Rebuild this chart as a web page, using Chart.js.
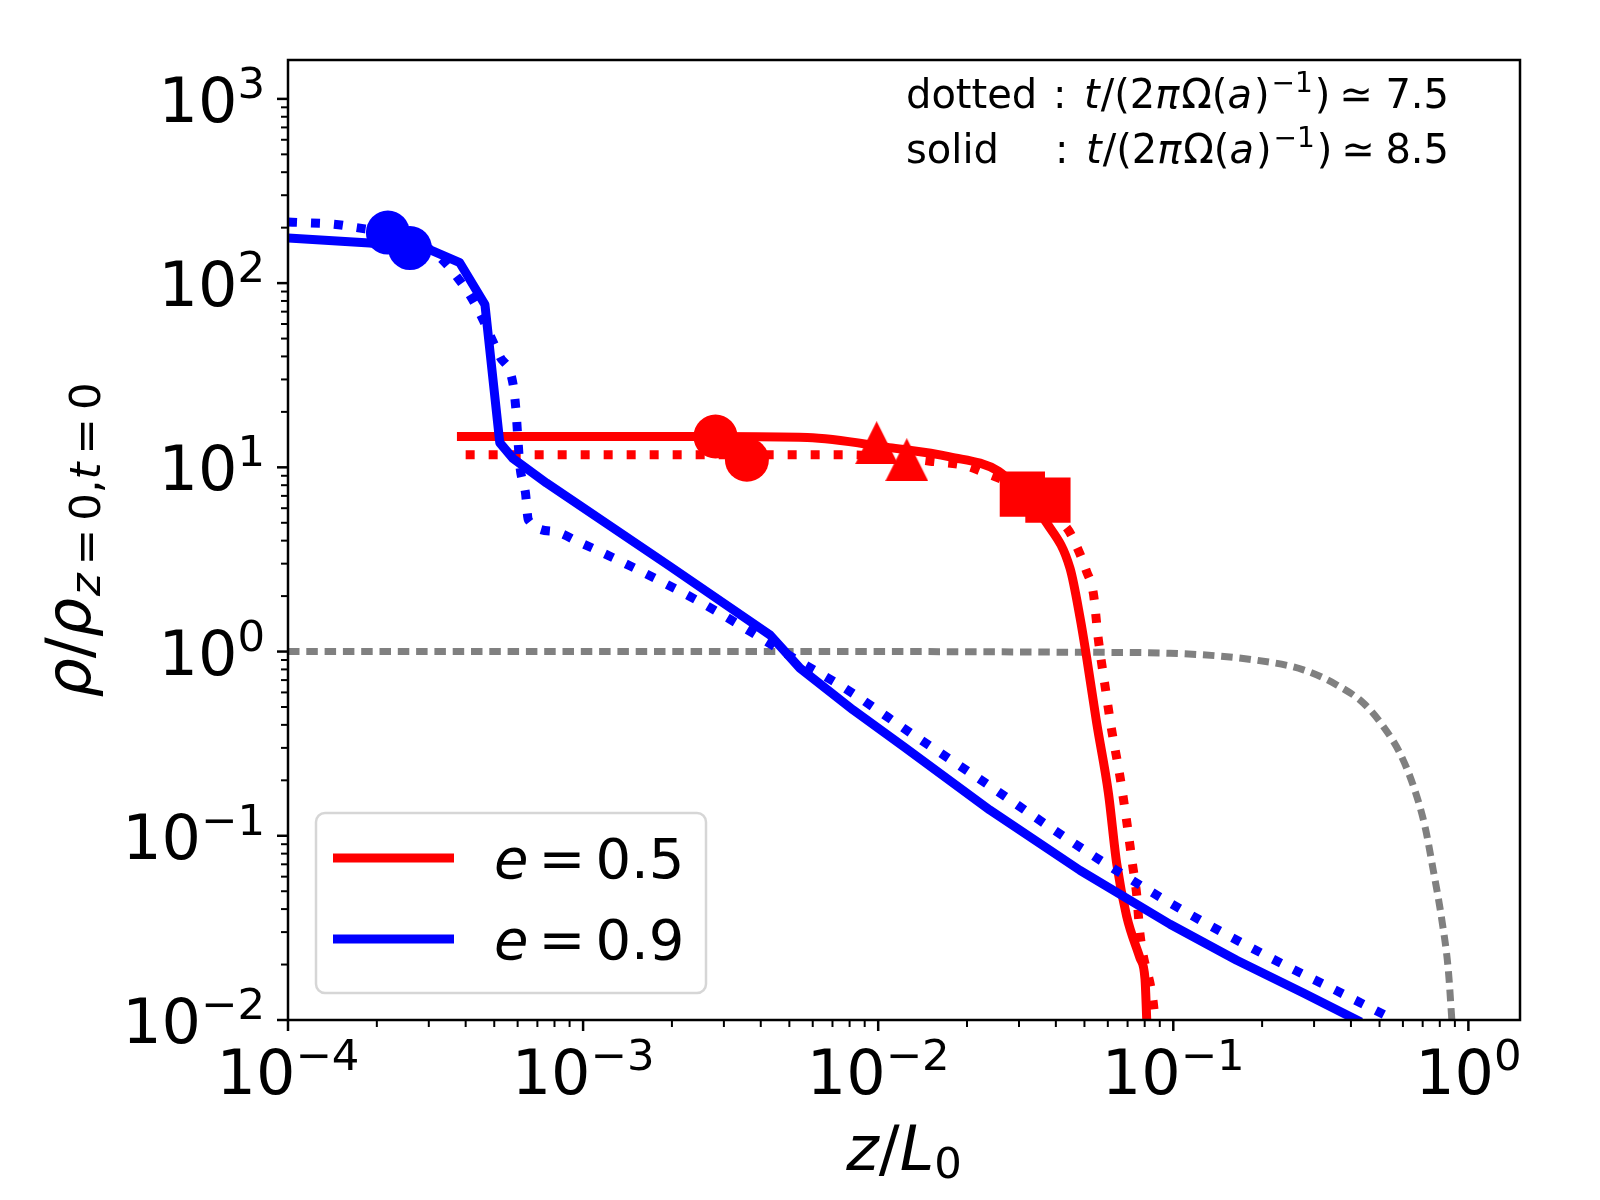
<!DOCTYPE html>
<html>
<head>
<meta charset="utf-8">
<script src="https://cdn.jsdelivr.net/npm/chart.js@4.4.1/dist/chart.umd.min.js"></script>
<style>
  html, body { margin: 0; padding: 0; background: #fff; }
</style>
</head>
<body>
<canvas id="myChart" width="1600" height="1200"></canvas>
<script>
// values: z/L0 against rho/rho(z=0,t=0)
const eccentricities = ["0.5", "0.9"];
const timeLabels = ["7.5", "8.5"]; // dotted, solid

// e = 0.9
const blueSolidZ = [1.00e-4, 1.89e-4, 2.59e-4, 3.02e-4, 3.82e-4, 4.65e-4, 5.22e-4, 5.78e-4, 7.52e-4, 9.02e-4,
  1.97e-3, 4.30e-3, 5.43e-3, 8.22e-3, 1.22e-2, 2.39e-2, 4.83e-2, 9.75e-2, 0.164, 0.276, 0.419];
const blueSolidRho = [176, 165, 156, 152, 129, 76.4, 13.6, 11.2, 8.22, 6.75,
  2.90, 1.23, 0.813, 0.482, 0.305, 0.138, 0.0649, 0.0331, 0.0211, 0.0140, 0.0100];
const blueDotZ = [1.00e-4, 1.59e-4, 3.09e-4, 3.91e-4, 4.37e-4, 5.22e-4, 5.78e-4, 5.92e-4, 6.01e-4, 6.11e-4,
  6.38e-4, 6.52e-4, 7.91e-4, 9.75e-4, 1.44e-3, 2.55e-3, 3.67e-3, 5.28e-3, 7.71e-3, 1.32e-2,
  2.27e-2, 4.65e-2, 9.62e-2, 0.205, 0.358, 0.536, 0.562];
const blueDotRho = [215, 204, 149, 98.2, 73.6, 40.0, 28.7, 20.6, 14.4, 10.1,
  7.24, 5.19, 4.49, 3.91, 2.92, 1.82, 1.29, 0.902, 0.632, 0.352,
  0.197, 0.0902, 0.0437, 0.0225, 0.0144, 0.0104, 0.0100];

// e = 0.5
const redSolidZ = [3.87e-4, 2.81e-3, 5.75e-3, 1.09e-2, 1.75e-2, 2.56e-2, 3.07e-2, 3.72e-2, 4.47e-2, 4.83e-2,
  5.08e-2, 5.50e-2, 6.03e-2, 6.43e-2, 6.95e-2, 7.71e-2, 8.02e-2, 8.13e-2];
const redSolidRho = [14.7, 14.7, 14.5, 12.8, 11.4, 9.51, 7.19, 5.00, 2.82, 1.53,
  0.942, 0.410, 0.170, 0.0708, 0.0366, 0.0217, 0.0167, 0.0100];
const redDotZ = [4.00e-4, 7.89e-3, 1.50e-2, 2.13e-2, 4.36e-2, 4.75e-2, 5.08e-2, 5.36e-2, 5.57e-2, 5.86e-2,
  6.18e-2, 6.59e-2, 6.95e-2, 7.28e-2, 7.52e-2, 7.71e-2, 8.55e-2, 8.67e-2];
const redDotRho = [11.7, 11.7, 10.8, 9.82, 4.68, 3.60, 2.73, 2.07, 1.17, 0.664,
  0.376, 0.212, 0.120, 0.0693, 0.0476, 0.0294, 0.0125, 0.0100];

// initial profile t = 0
const grayZ = [1e-4, 1e-2, 5.01e-2, 9.75e-2, 0.187, 0.276, 0.358, 0.441, 0.515, 0.586,
  0.652, 0.713, 0.760, 0.813, 0.855, 0.879];
const grayRho = [1.0, 1.0, 0.991, 0.979, 0.902, 0.796, 0.659, 0.525, 0.392, 0.281,
  0.185, 0.112, 0.0652, 0.0349, 0.0187, 0.0100];

// markers
const blueCircleZ = [2.18e-4, 2.59e-4];
const blueCircleRho = [188, 155];
const redCircleZ = [2.81e-3, 3.59e-3];
const redCircleRho = [14.7, 11.0];
const redTriZ = [9.88e-3, 1.25e-2];
const redTriRho = [13.6, 11.0];
const redSquareZ = [3.08e-2, 3.76e-2];
const redSquareRho = [7.16, 6.64];

// axis ticks (powers of ten)
const xTickExps = [-4, -3, -2, -1, 0];
const yTickExps = [-2, -1, 0, 1, 2, 3];

const RED = "#ff0000", BLUE = "#0000ff", GRAY = "#808080";
const FONT = '"DejaVu Sans"';
const LW = 9;

const pts = (xs, ys) => xs.map((x, i) => ({ x: x, y: ys[i] }));

function triangleSprite(w, h, color) {
  const c = document.createElement("canvas");
  c.width = w; c.height = h;
  const g = c.getContext("2d");
  g.fillStyle = color;
  g.beginPath();
  g.moveTo(w / 2, 0);
  g.lineTo(w, h);
  g.lineTo(0, h);
  g.closePath();
  g.fill();
  return c;
}

const fontOf = r => (r.it ? "italic " : "") + r.size + "px " + FONT;

function runsWidth(ctx, runs) {
  let w = 0;
  for (const r of runs) {
    ctx.font = fontOf(r);
    w += (r.pre || 0) + ctx.measureText(r.t).width + (r.post || 0);
  }
  return w;
}

function drawRuns(ctx, runs, x, y) {
  for (const r of runs) {
    ctx.font = fontOf(r);
    x += r.pre || 0;
    ctx.fillText(r.t, x, y + (r.dy || 0));
    x += ctx.measureText(r.t).width + (r.post || 0);
  }
  return x;
}

const powRuns = e => [
  { t: "10", size: 62 },
  { t: String(e).replace("-", "\u2212"), size: 43.4, dy: -24 }
];

const decor = {
  id: "decor",
  beforeDraw(chart) {
    const c = chart.ctx;
    c.save();
    c.fillStyle = "#fff";
    c.fillRect(0, 0, chart.width, chart.height);
    c.restore();
  },
  afterDraw(chart) {
    const ctx = chart.ctx;
    const a = chart.chartArea;
    const xs = chart.scales.x, ys = chart.scales.y;
    ctx.save();
    ctx.fillStyle = "#000";
    ctx.strokeStyle = "#000";
    ctx.textAlign = "left";
    ctx.textBaseline = "alphabetic";

    // minor + major ticks
    const tick = (scale, v, len, w) => {
      const p = scale.getPixelForValue(v);
      ctx.lineWidth = w;
      ctx.beginPath();
      if (scale.axis === "x") {
        ctx.moveTo(p, a.bottom); ctx.lineTo(p, a.bottom + len);
      } else {
        ctx.moveTo(a.left - len, p); ctx.lineTo(a.left, p);
      }
      ctx.stroke();
    };
    for (const scale of [xs, ys]) {
      const lo = Math.floor(Math.log10(scale.min)), hi = Math.ceil(Math.log10(scale.max));
      for (let e = lo; e <= hi; e++) {
        for (let m = 2; m <= 9; m++) {
          const v = m * Math.pow(10, e);
          if (v >= scale.min && v <= scale.max) tick(scale, v, 7, 2);
        }
      }
    }
    xTickExps.forEach(e => tick(xs, Math.pow(10, e), 11, 2.5));
    yTickExps.forEach(e => tick(ys, Math.pow(10, e), 11, 2.5));

    // tick labels
    xTickExps.forEach(e => {
      const runs = powRuns(e);
      const p = xs.getPixelForValue(Math.pow(10, e));
      drawRuns(ctx, runs, p - runsWidth(ctx, runs) / 2, a.bottom + 74);
    });
    yTickExps.forEach(e => {
      const runs = powRuns(e);
      const p = ys.getPixelForValue(Math.pow(10, e));
      drawRuns(ctx, runs, a.left - 23 - runsWidth(ctx, runs), p + 23);
    });

    // frame
    ctx.lineWidth = 2.5;
    ctx.strokeRect(a.left, a.top, a.right - a.left, a.bottom - a.top);

    // axis titles
    const xTitle = [
      { t: "z", it: true, size: 62 }, { t: "/", size: 62 }, { t: "L", it: true, size: 62 },
      { t: "0", size: 43.4, dy: 8 }
    ];
    drawRuns(ctx, xTitle, (a.left + a.right) / 2 - runsWidth(ctx, xTitle) / 2, 1170);

    const s = 43.4, d = 10;
    const yTitle = [
      { t: "\u03c1", it: true, size: 62 }, { t: "/", size: 62 }, { t: "\u03c1", it: true, size: 62 },
      { t: "z", it: true, size: s, dy: d, pre: 2 }, { t: "=", size: s, dy: d, pre: 8, post: 8 },
      { t: "0", size: s, dy: d }, { t: ",", size: s, dy: d }, { t: "t", it: true, size: s, dy: d },
      { t: "=", size: s, dy: d, pre: 8, post: 8 }, { t: "0", size: s, dy: d }
    ];
    ctx.save();
    ctx.translate(90, (a.top + a.bottom) / 2);
    ctx.rotate(-Math.PI / 2);
    drawRuns(ctx, yTitle, -runsWidth(ctx, yTitle) / 2, 0);
    ctx.restore();

    // time annotation, top right
    const f = 40;
    const formula = [
      { t: "t", it: true, size: f, post: 1 }, { t: "/(2", size: f }, { t: "\u03c0", it: true, size: f, post: 2 },
      { t: "\u03a9(", size: f }, { t: "a", it: true, size: f, post: 2 }, { t: ")", size: f },
      { t: "\u22121", size: 28, dy: -16, pre: 2, post: 2 }, { t: ")", size: f }
    ];
    [["dotted", timeLabels[0], 108, 0], ["solid", timeLabels[1], 163, 2]].forEach(([name, val, base, sh]) => {
      ctx.font = f + "px " + FONT;
      ctx.fillText(name, 906, base);
      ctx.fillText(":", 1053 + sh, base);
      const end = drawRuns(ctx, formula, 1084 + sh, base);
      ctx.font = f + "px " + FONT;
      const vw = ctx.measureText(val).width;
      ctx.fillText(val, 1449 - vw, base);
      ctx.fillText("\u2243", end + 9, base);
    });

    // legend
    const lx = 316, ly = 813, lw = 390, lh = 180, rad = 9;
    ctx.beginPath();
    ctx.moveTo(lx + rad, ly);
    ctx.arcTo(lx + lw, ly, lx + lw, ly + lh, rad);
    ctx.arcTo(lx + lw, ly + lh, lx, ly + lh, rad);
    ctx.arcTo(lx, ly + lh, lx, ly, rad);
    ctx.arcTo(lx, ly, lx + lw, ly, rad);
    ctx.closePath();
    ctx.fillStyle = "rgba(255,255,255,0.8)";
    ctx.fill();
    ctx.strokeStyle = "#d6d6d6";
    ctx.lineWidth = 2.5;
    ctx.stroke();

    const entries = eccentricities.map(e => chart.data.datasets.find(ds => ds.legendE === e));
    entries.forEach((ds, i) => {
      const y = 858 + i * 81;
      ctx.strokeStyle = ds.borderColor;
      ctx.lineWidth = ds.borderWidth;
      ctx.lineCap = "butt";
      ctx.beginPath();
      ctx.moveTo(333, y);
      ctx.lineTo(454, y);
      ctx.stroke();
      ctx.fillStyle = "#000";
      drawRuns(ctx, [
        { t: "e", it: true, size: 56 },
        { t: "=", size: 56, pre: 10, post: 10 },
        { t: ds.legendE, size: 56 }
      ], 494, y + 20);
    });
    ctx.restore();
  }
};

const solid = (label, color, xs, ys, order, extra) => Object.assign({
  label: label, data: pts(xs, ys), borderColor: color, backgroundColor: color,
  borderWidth: LW, pointRadius: 0, fill: false, order: order,
  borderCapStyle: "square", borderJoinStyle: "round", cubicInterpolationMode: "monotone"
}, extra || {});

const dotted = (label, color, xs, ys, order, extra) => Object.assign({
  label: label, data: pts(xs, ys), borderColor: color, backgroundColor: color,
  borderWidth: LW, pointRadius: 0, fill: false, order: order,
  borderDash: [9, 14], borderCapStyle: "butt", cubicInterpolationMode: "monotone"
}, extra || {});

const markers = (label, color, xs, ys, style, r, order) => ({
  label: label, data: pts(xs, ys), showLine: false, order: order,
  pointStyle: style, pointRadius: r, pointHoverRadius: r,
  pointBackgroundColor: color, pointBorderWidth: 0, borderColor: color, clip: false
});

const ctx = document.getElementById("myChart").getContext("2d");
Chart.defaults.font.family = "DejaVu Sans";

new Chart(ctx, {
  type: "line",
  data: {
    datasets: [
      markers("blue circles", BLUE, blueCircleZ, blueCircleRho, "circle", 22, 0),
      markers("red circles", RED, redCircleZ, redCircleRho, "circle", 22, 0),
      markers("red triangles", RED, redTriZ, redTriRho, triangleSprite(43, 43, RED), 22, 0),
      markers("red squares", RED, redSquareZ, redSquareRho, "rect", 32, 0),
      // the e = 0.9 solid profile has sharp corners: straight segments
      solid("e = " + eccentricities[1] + ", solid", BLUE, blueSolidZ, blueSolidRho, 1,
        { legendE: eccentricities[1], cubicInterpolationMode: "default", tension: 0 }),
      dotted("e = " + eccentricities[1] + ", dotted", BLUE, blueDotZ, blueDotRho, 2),
      solid("e = " + eccentricities[0] + ", solid", RED, redSolidZ, redSolidRho, 3, { legendE: eccentricities[0] }),
      dotted("e = " + eccentricities[0] + ", dotted", RED, redDotZ, redDotRho, 4),
      {
        label: "t = 0", data: pts(grayZ, grayRho), borderColor: GRAY, borderWidth: 7,
        borderDash: [11.5, 6.8], pointRadius: 0, fill: false, order: 5,
        cubicInterpolationMode: "monotone"
      }
    ]
  },
  options: {
    responsive: false,
    devicePixelRatio: 1,
    animation: false,
    layout: { padding: { top: 60, right: 80, bottom: 0, left: 0 } },
    scales: {
      x: {
        type: "logarithmic", min: 1e-4, max: 1.496,
        ticks: { display: false }, grid: { display: false }, border: { display: false },
        afterFit: s => { s.height = 180; }
      },
      y: {
        type: "logarithmic", min: 1e-2, max: 1626,
        ticks: { display: false }, grid: { display: false }, border: { display: false },
        afterFit: s => { s.width = 288; }
      }
    },
    plugins: {
      legend: { display: false },
      tooltip: { enabled: false }
    }
  },
  plugins: [decor]
});
</script>
</body>
</html>
